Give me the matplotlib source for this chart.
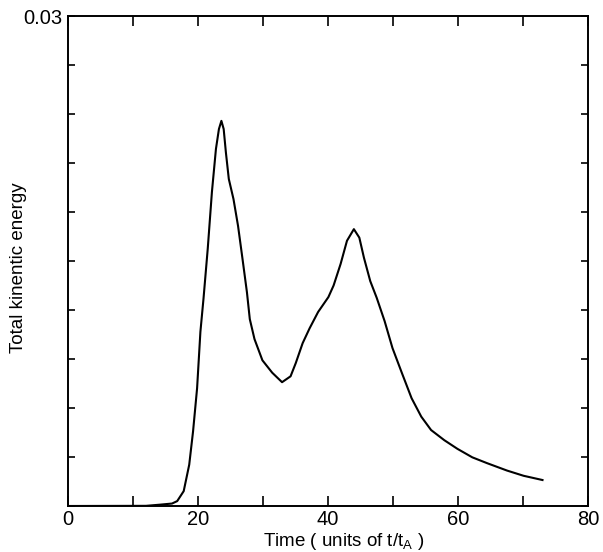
#!/usr/bin/env python

import matplotlib
matplotlib.use('Agg')
import matplotlib.pyplot as plt

from matplotlib.ticker import FixedLocator, MultipleLocator

# kinetic energy trace
time = [0.0, 12.0, 14.1, 16.0, 16.8, 17.8, 18.65, 19.24, 19.86, 20.37,
        20.85, 21.5, 22.14, 22.76, 23.22, 23.6, 23.95, 24.29, 24.74, 25.46,
        26.16, 26.85, 27.53, 27.97, 28.69, 29.91, 31.42, 32.93, 34.24, 35.04,
        36.1, 37.17, 38.48, 40.06, 40.86, 41.94, 42.92, 43.98, 44.82, 45.53,
        46.5, 47.49, 48.71, 49.92, 51.39, 52.86, 54.35, 55.86, 57.89, 59.91,
        62.2, 64.49, 67.54, 70.09, 73.0]
energy = [0.0, 0.00001, 0.00008, 0.00015, 0.0003, 0.00091, 0.00253, 0.00457,
          0.00721, 0.01067, 0.01271, 0.01576, 0.01922, 0.02186, 0.02308,
          0.02358, 0.02308, 0.02165, 0.02002, 0.01879, 0.01715, 0.01512,
          0.01308, 0.01144, 0.01022, 0.00892, 0.00816, 0.00758, 0.00794,
          0.00875, 0.00997, 0.01088, 0.01188, 0.01279, 0.0135, 0.01482,
          0.01624, 0.01695, 0.01643, 0.0152, 0.01377, 0.01275, 0.01132,
          0.00967, 0.00812, 0.0066, 0.00547, 0.00465, 0.00403, 0.0035,
          0.00298, 0.00262, 0.00217, 0.00185, 0.00159]

x_labels = [0, 20, 40, 60, 80]
y_labels = [0.03]


def main():
    plt.rcParams['font.family'] = ['Liberation Sans', 'DejaVu Sans']
    plt.rcParams['mathtext.fontset'] = 'custom'
    plt.rcParams['mathtext.rm'] = 'Liberation Sans'

    fig = plt.figure(figsize=(6.03, 5.52), dpi=100)
    ax = fig.add_axes([68 / 603, 1 - 506 / 552, 520 / 603, 490 / 552])

    ax.plot(time, energy, color='black', linewidth=1.5)

    ax.set_xlim(0, 80)
    ax.set_ylim(0, 0.03)

    ax.xaxis.set_major_locator(FixedLocator(x_labels))
    ax.xaxis.set_minor_locator(MultipleLocator(10))
    ax.set_xticklabels([str(v) for v in x_labels])
    ax.yaxis.set_major_locator(FixedLocator(y_labels))
    ax.yaxis.set_minor_locator(MultipleLocator(0.003))
    ax.set_yticklabels(['0.03'])

    ax.tick_params(which='both', direction='in', top=True, right=True,
                   width=1.2, labelsize=14.5, colors='black')
    ax.tick_params(axis='x', which='both', length=7.5, pad=3)
    ax.tick_params(axis='y', which='both', length=5, pad=4)
    for sp in ax.spines.values():
        sp.set_linewidth(1.4)

    ax.set_xlabel('Time ( units of t/t$\\mathregular{_A}$ )', fontsize=13.5)
    ax.xaxis.set_label_coords(0.53, -(541 - 506) / 490, transform=ax.transAxes)
    ax.xaxis.label.set_va('center')
    ax.set_ylabel('Total kinentic energy', fontsize=13.5)
    ax.yaxis.set_label_coords((19 - 68) / 520, (506 - 268) / 490)
    ax.yaxis.label.set_va('center')

    fig.savefig('out.png', dpi=100)


if __name__ == "__main__":
    main()
